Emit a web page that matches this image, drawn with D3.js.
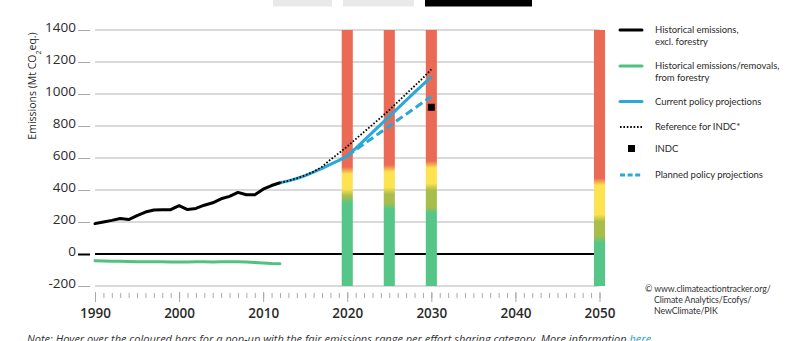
<!DOCTYPE html>
<html>
<head>
<meta charset="utf-8">
<script src="https://cdn.jsdelivr.net/npm/d3@7/dist/d3.min.js"></script>
<style>
  html, body { margin: 0; padding: 0; background: #fff; }
  svg { display: block; font-family: "Open Sans", "Noto Sans", sans-serif; }
</style>
</head>
<body>
<svg id="chart" width="800" height="341"></svg>
<script>
// ---- data (Mt CO2eq.) ----
const histYears = [1990, 1991, 1992, 1993, 1994, 1995, 1996, 1997, 1998, 1999, 2000, 2001,
                   2002, 2003, 2004, 2005, 2006, 2007, 2008, 2009, 2010, 2011, 2012];
const histExclForestry = [190, 200, 210, 222, 215, 240, 262, 275, 276, 277, 302, 278,
                          285, 305, 320, 345, 360, 385, 370, 370, 405, 428, 445];
const histForestry = [-42, -43, -45, -46, -47, -48, -48, -49, -49, -50, -50, -50,
                      -49, -49, -50, -49, -48, -49, -50, -53, -56, -60, -61];

const projYears = [2012, 2013, 2014, 2015, 2016, 2017, 2018, 2019, 2020, 2021,
                   2022, 2023, 2024, 2025, 2026, 2027, 2028, 2029, 2030];
const currentPolicy = [445, 457, 472, 490, 512, 535, 560, 585, 612, 660,
                       710, 760, 810, 860, 910, 960, 1010, 1058, 1108];
const referenceINDC = [445, 457, 473, 492, 515, 545, 590, 630, 672, 718,
                       763, 808, 853, 900, 950, 1000, 1050, 1100, 1154];

const plannedYears = [2020, 2021, 2022, 2023, 2024, 2025, 2026, 2027, 2028, 2029, 2030];
const plannedPolicy = [612, 650, 688, 725, 762, 800, 837, 874, 911, 948, 985];

const indcYears = [2030];
const indcValues = [917];

// fair-share ranges per effort-sharing category, as band boundaries
const barYears = [2020, 2025, 2030, 2050];
const barGreenTop = [340, 300, 275, 92];
const barOliveTop = [385, 395, 420, 225];
const barYellowTop = [522, 535, 560, 452];

const yTicks = [-200, 0, 200, 400, 600, 800, 1000, 1200, 1400];
const xLabelYears = [1990, 2000, 2010, 2020, 2030, 2040, 2050];
const xMinorYears = [1990, 1991, 1992, 1993, 1994, 1995, 1996, 1997, 1998, 1999,
  2000, 2001, 2002, 2003, 2004, 2005, 2006, 2007, 2008, 2009,
  2010, 2011, 2012, 2013, 2014, 2015, 2016, 2017, 2018, 2019,
  2020, 2021, 2022, 2023, 2024, 2025, 2026, 2027, 2028, 2029,
  2030, 2031, 2032, 2033, 2034, 2035, 2036, 2037, 2038, 2039,
  2040, 2041, 2042, 2043, 2044, 2045, 2046, 2047, 2048, 2049, 2050];

// ---- colours ----
const C = {
  black: "#000000",
  green: "#4fc27f",
  blue: "#2aa8d7",
  red: "#eb6a55",
  yellow: "#fde34f",
  olive: "#a9bd4b",
  barGreen: "#55c687",
  grid: "#b4b4b4",
  tick: "#a8a8a8",
  text: "#2b2b2b"
};

const svg = d3.select("#chart");

const x = d3.scaleLinear().domain([1990, 2050]).range([95, 599.5]);
const y = d3.scaleLinear().domain([-200, 1400]).range([286, 30]);

// tabs across the top edge
const tabs = [[273, 332, "#e9e9e9"], [343, 414, "#e9e9e9"], [425, 532, "#000"]];
svg.selectAll("rect.tab").data(tabs).join("rect")
  .attr("class", "tab")
  .attr("x", d => d[0]).attr("y", 0)
  .attr("width", d => d[1] - d[0]).attr("height", 6.5)
  .attr("fill", d => d[2]);

// horizontal grid
svg.append("g").selectAll("line").data(yTicks).join("line")
  .attr("x1", x(1990)).attr("x2", x(2050))
  .attr("y1", d => y(d)).attr("y2", d => y(d))
  .attr("stroke", d => d === 0 ? C.black : C.grid)
  .attr("stroke-width", d => d === 0 ? 1.8 : 1);

// y axis: short dashes and labels (plain hyphen for negatives)
const yAxis = svg.append("g")
  .attr("transform", "translate(90,0)")
  .call(d3.axisLeft(y).tickValues(yTicks).tickSize(12).tickPadding(2).tickFormat(d => String(d)));
yAxis.select(".domain").remove();
yAxis.selectAll(".tick line")
  .attr("stroke", d => d === 0 ? C.black : C.tick)
  .attr("stroke-width", d => d === 0 ? 2 : 1);
yAxis.selectAll(".tick text")
  .attr("dy", "0.12em")
  .attr("fill", C.text)
  .style("font-size", "13.5px")
  .style("font-family", "'Open Sans', sans-serif");

// y axis title
const yTitle = svg.append("text")
  .attr("transform", "translate(36,86) rotate(-90)")
  .attr("text-anchor", "middle")
  .attr("fill", C.text)
  .style("font-size", "10.5px");
yTitle.append("tspan").text("Emissions (Mt CO");
yTitle.append("tspan").attr("baseline-shift", "sub").style("font-size", "7px").text("2");
yTitle.append("tspan").text("eq.)");

// x axis: yearly minor ticks, decade major ticks
const xAxis = svg.append("g")
  .attr("transform", "translate(0,292)")
  .call(d3.axisBottom(x).tickValues(xMinorYears).tickSize(5).tickFormat(""));
xAxis.select(".domain").remove();
xAxis.selectAll(".tick line").attr("stroke", C.tick).attr("transform", "translate(0,1)");

const xMajor = svg.append("g")
  .attr("transform", "translate(0,292)")
  .call(d3.axisBottom(x).tickValues(xLabelYears).tickSize(10).tickPadding(6).tickFormat(d => String(d)));
xMajor.select(".domain").remove();
xMajor.selectAll(".tick line").attr("stroke", C.tick);
xMajor.selectAll(".tick text")
  .attr("fill", C.text)
  .style("font-size", "13.5px")
  .style("font-weight", "600")
  .style("font-family", "'Open Sans', sans-serif");

// coloured effort-sharing bars
const defs = svg.append("defs");
const blend = 3.5; // px of colour blending either side of a boundary
const bars = barYears.map((yr, i) => ({
  year: yr, g: barGreenTop[i], o: barOliveTop[i], r: barYellowTop[i], id: "bar" + i
}));
const barTop = y(1400), barBottom = y(-200), barSpan = barBottom - barTop;
bars.forEach(b => {
  const off = v => (y(v) - barTop) / barSpan;
  const bl = blend / barSpan;
  const grad = defs.append("linearGradient")
    .attr("id", b.id)
    .attr("gradientUnits", "userSpaceOnUse")
    .attr("x1", 0).attr("x2", 0).attr("y1", barTop).attr("y2", barBottom);
  const stops = [
    [0, C.red],
    [off(b.r) - bl, C.red],
    [off(b.r) + bl, C.yellow],
    [off(b.o) - bl, C.yellow],
    [off(b.o) + bl, C.olive],
    [off(b.g) - bl, C.olive],
    [off(b.g) + bl, C.barGreen],
    [1, C.barGreen]
  ];
  grad.selectAll("stop").data(stops).join("stop")
    .attr("offset", d => Math.max(0, Math.min(1, d[0])))
    .attr("stop-color", d => d[1]);
});
const barHalf = 0.66; // years either side of the bar centre
svg.append("g").selectAll("rect").data(bars).join("rect")
  .attr("x", d => x(d.year - barHalf))
  .attr("width", d => x(d.year + barHalf) - x(d.year - barHalf))
  .attr("y", barTop)
  .attr("height", barSpan)
  .attr("fill", d => `url(#${d.id})`);

// lines
const line = (xs, ys) => d3.line().x((d, i) => x(xs[i])).y(d => y(d))(ys);

svg.append("path").attr("d", line(histYears, histForestry))
  .attr("fill", "none").attr("stroke", C.green).attr("stroke-width", 3)
  .attr("stroke-linejoin", "round").attr("stroke-linecap", "round");

svg.append("path").attr("d", line(histYears, histExclForestry))
  .attr("fill", "none").attr("stroke", C.black).attr("stroke-width", 3)
  .attr("stroke-linejoin", "round").attr("stroke-linecap", "round");

svg.append("path").attr("d", line(projYears, currentPolicy))
  .attr("fill", "none").attr("stroke", C.blue).attr("stroke-width", 3)
  .attr("stroke-linejoin", "round");

svg.append("path").attr("d", line(plannedYears, plannedPolicy))
  .attr("fill", "none").attr("stroke", C.blue).attr("stroke-width", 3)
  .attr("stroke-dasharray", "8,4");

svg.append("path").attr("d", line(projYears, referenceINDC))
  .attr("fill", "none").attr("stroke", C.black).attr("stroke-width", 1.8)
  .attr("stroke-dasharray", "1.6,1.8");

// INDC target
svg.append("g").selectAll("rect").data(indcYears).join("rect")
  .attr("x", d => x(d) - 3.5).attr("y", (d, i) => y(indcValues[i]) - 3.5)
  .attr("width", 7).attr("height", 7).attr("fill", C.black);

// legend
const legend = [
  { lines: ["Historical emissions,", "excl. forestry"], kind: "solid", color: C.black, y: 30 },
  { lines: ["Historical emissions/removals,", "from forestry"], kind: "solid", color: C.green, y: 66 },
  { lines: ["Current policy projections"], kind: "solid", color: C.blue, y: 101.5 },
  { lines: ["Reference for INDC*"], kind: "dot", color: C.black, y: 127 },
  { lines: ["INDC"], kind: "square", color: C.black, y: 148.5 },
  { lines: ["Planned policy projections"], kind: "dash", color: C.blue, y: 175 }
];
const lg = svg.append("g");
legend.forEach(item => {
  if (item.kind === "square") {
    lg.append("rect").attr("x", 628).attr("y", item.y - 3.5).attr("width", 7).attr("height", 7)
      .attr("fill", item.color);
  } else {
    lg.append("line").attr("x1", 620).attr("x2", 642).attr("y1", item.y).attr("y2", item.y)
      .attr("stroke", item.color)
      .attr("stroke-width", item.kind === "dot" ? 1.8 : 3)
      .attr("stroke-linecap", item.kind === "solid" ? "round" : "butt")
      .attr("stroke-dasharray", item.kind === "dot" ? "1.6,1.8" : item.kind === "dash" ? "5,2.6" : null);
  }
  const t = lg.append("text").attr("x", 655).attr("y", item.y + 3)
    .attr("fill", C.text)
    .style("font-family", "Lato, sans-serif")
    .style("font-size", "9.5px")
    .style("letter-spacing", "-0.05px");
  item.lines.forEach((s, k) => {
    t.append("tspan").attr("x", 655).attr("dy", k === 0 ? 0 : 11.5).text(s);
  });
});

// credits
const creditLines = ["© www.climateactiontracker.org/", "Climate Analytics/Ecofys/", "NewClimate/PIK"];
const credit = svg.append("text")
  .attr("x", 645).attr("y", 292)
  .attr("fill", "#333")
  .style("font-family", "Lato, sans-serif")
  .style("font-size", "8.8px")
  .style("letter-spacing", "-0.1px");
credit.selectAll("tspan").data(creditLines).join("tspan")
  .attr("x", (d, i) => i === 0 ? 645 : 654)
  .attr("dy", (d, i) => i === 0 ? 0 : 11)
  .text(d => d);

// note beneath the chart
const note = svg.append("text")
  .attr("x", 27).attr("y", 343)
  .attr("fill", "#333")
  .style("font-size", "11px")
  .style("font-style", "italic");
note.append("tspan").text("Note: Hover over the coloured bars for a pop-up with the fair emissions range per effort sharing category. More information ");
note.append("tspan").attr("fill", "#1e9fd6").style("text-decoration", "underline").text("here");
</script>
</body>
</html>
